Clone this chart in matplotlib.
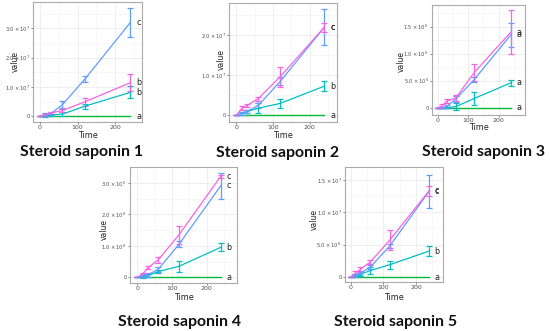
"""Five steroid saponin time-course panels (ggplot-like small multiples)."""

import matplotlib

matplotlib.use("Agg")
import matplotlib.pyplot as plt
from matplotlib.ticker import FixedLocator

TIME = [0, 15, 30, 60, 120, 240]

# saponin 1
S1_GREEN = [0, 0, 0, 0, 0, 0]
S1_TEAL = [0, 0.2e6, 0.5e6, 0.8e6, 3.5e6, 8.2e6]
S1_TEAL_SD = [0, 0.3e6, 0.4e6, 0.6e6, 0.8e6, 2.0e6]
S1_BLUE = [0, 0.5e6, 1.0e6, 4.0e6, 12.8e6, 32.0e6]
S1_BLUE_SD = [0, 0.5e6, 0.6e6, 1.2e6, 1.0e6, 5.0e6]
S1_PINK = [0, 0.5e6, 1.2e6, 2.0e6, 5.0e6, 11.5e6]
S1_PINK_SD = [0, 0.3e6, 0.4e6, 0.4e6, 1.3e6, 2.8e6]

# saponin 2
S2_GREEN = [0, 0, 0, 0, 0, 0]
S2_TEAL = [0, 0.5e6, 1.0e6, 1.8e6, 3.0e6, 7.3e6]
S2_TEAL_SD = [0, 0.3e6, 0.4e6, 1.2e6, 1.2e6, 1.3e6]
S2_BLUE = [0, 0.5e6, 1.0e6, 2.5e6, 8.5e6, 22.0e6]
S2_BLUE_SD = [0, 0.4e6, 0.4e6, 0.6e6, 1.0e6, 4.5e6]
S2_PINK = [0, 1.8e6, 2.5e6, 4.2e6, 9.7e6, 22.0e6]
S2_PINK_SD = [0, 0.5e6, 0.3e6, 0.5e6, 2.5e6, 1.2e6]

# saponin 3
S3_GREEN = [0, 0, 0, 0, 0, 0]
S3_TEAL = [0, 0, 0, 0.02e6, 0.17e6, 0.46e6]
S3_TEAL_SD = [0, 0, 0, 0.07e6, 0.12e6, 0.05e6]
S3_BLUE = [0, 0, 0.02e6, 0.16e6, 0.52e6, 1.35e6]
S3_BLUE_SD = [0, 0, 0.02e6, 0.06e6, 0.05e6, 0.22e6]
S3_PINK = [0, 0.03e6, 0.12e6, 0.18e6, 0.65e6, 1.40e6]
S3_PINK_SD = [0, 0.03e6, 0.04e6, 0.06e6, 0.15e6, 0.40e6]

# saponin 4
S4_GREEN = [0, 0, 0, 0, 0, 0]
S4_TEAL = [0, 0.02e6, 0.05e6, 0.18e6, 0.35e6, 0.95e6]
S4_TEAL_SD = [0, 0.03e6, 0.05e6, 0.05e6, 0.18e6, 0.13e6]
S4_BLUE = [0, 0.05e6, 0.08e6, 0.25e6, 1.05e6, 2.90e6]
S4_BLUE_SD = [0, 0.05e6, 0.06e6, 0.08e6, 0.10e6, 0.40e6]
S4_PINK = [0, 0.10e6, 0.30e6, 0.55e6, 1.35e6, 3.20e6]
S4_PINK_SD = [0, 0.05e6, 0.05e6, 0.08e6, 0.28e6, 0.06e6]

# saponin 5
S5_GREEN = [0, 0, 0, 0, 0, 0]
S5_TEAL = [0, 0.2e6, 0.4e6, 1.0e6, 1.9e6, 4.0e6]
S5_TEAL_SD = [0, 0.2e6, 0.2e6, 0.5e6, 0.6e6, 0.8e6]
S5_BLUE = [0, 0.3e6, 0.6e6, 1.5e6, 4.8e6, 13.2e6]
S5_BLUE_SD = [0, 0.2e6, 0.3e6, 0.3e6, 0.3e6, 2.5e6]
S5_PINK = [0, 0.6e6, 1.2e6, 2.3e6, 5.7e6, 13.3e6]
S5_PINK_SD = [0, 0.3e6, 0.4e6, 0.3e6, 1.5e6, 0.8e6]

TITLES = ["Steroid saponin 1", "Steroid saponin 2", "Steroid saponin 3",
          "Steroid saponin 4", "Steroid saponin 5"]
YTICKS = [
    [0, 1e7, 2e7, 3e7],
    [0, 1e7, 2e7],
    [0, 5e5, 1e6, 1.5e6],
    [0, 1e6, 2e6, 3e6],
    [0, 5e6, 1e7, 1.5e7],
]
YTICKLABELS = [
    ["0", r"$1.0\times10^{7}$", r"$2.0\times10^{7}$", r"$3.0\times10^{7}$"],
    ["0", r"$1.0\times10^{7}$", r"$2.0\times10^{7}$"],
    ["0", r"$5.0\times10^{5}$", r"$1.0\times10^{6}$", r"$1.5\times10^{6}$"],
    ["0", r"$1.0\times10^{6}$", r"$2.0\times10^{6}$", r"$3.0\times10^{6}$"],
    ["0", r"$5.0\times10^{6}$", r"$1.0\times10^{7}$", r"$1.5\times10^{7}$"],
]
# significance letters: green, teal, blue, pink
LETTERS = [
    ["a", "b", "c", "b"],
    ["a", "b", "c", "c"],
    ["a", "a", "a", "a"],
    ["a", "b", "c", "c"],
    ["a", "b", "c", "c"],
]

PANELS = [
    (S1_GREEN, S1_TEAL, S1_TEAL_SD, S1_BLUE, S1_BLUE_SD, S1_PINK, S1_PINK_SD),
    (S2_GREEN, S2_TEAL, S2_TEAL_SD, S2_BLUE, S2_BLUE_SD, S2_PINK, S2_PINK_SD),
    (S3_GREEN, S3_TEAL, S3_TEAL_SD, S3_BLUE, S3_BLUE_SD, S3_PINK, S3_PINK_SD),
    (S4_GREEN, S4_TEAL, S4_TEAL_SD, S4_BLUE, S4_BLUE_SD, S4_PINK, S4_PINK_SD),
    (S5_GREEN, S5_TEAL, S5_TEAL_SD, S5_BLUE, S5_BLUE_SD, S5_PINK, S5_PINK_SD),
]

GREEN = "#00BA38"
TEAL = "#00BFC4"
BLUE = "#619CFF"
PINK = "#F564E3"

W, H = 550, 331
# pixel boxes (left, top, right, bottom), axis limits, label and title centres
BOXES = [(33, 2, 142, 122), (229, 3, 337, 122), (432, 5, 525, 115),
         (130, 167, 237, 283), (345, 167, 443, 282)]
XLIMS = [(-18, 271), (-20, 275), (-18, 286), (-21, 287), (-17, 283)]
YLIMS = [(-0.19e7, 3.9e7), (-0.165e7, 2.81e7), (-0.136e6, 1.9e6),
         (-0.18e6, 3.5e6), (-0.077e7, 1.70e7)]
YLABEL_POS = [(15, 62), (221, 60), (401, 62), (104, 229), (314, 220)]
XLABEL_Y = [136, 135, 127, 297, 297]
TITLE_POS = [(82, 152), (278, 153), (484, 152), (180, 322), (396, 322)]

fig = plt.figure(figsize=(W / 100, H / 100), dpi=100)

for i, data in enumerate(PANELS):
    green, teal, teal_sd, blue, blue_sd, pink, pink_sd = data
    l, t, r, b = BOXES[i]
    ax = fig.add_axes([l / W, (H - b) / H, (r - l) / W, (b - t) / H])

    ax.plot(TIME, green, color=GREEN, lw=1.0, zorder=2)
    for vals, sd, col in [(teal, teal_sd, TEAL), (blue, blue_sd, BLUE), (pink, pink_sd, PINK)]:
        ax.errorbar(TIME, vals, yerr=sd, color=col, lw=0.9, elinewidth=0.9,
                    capsize=2.2, capthick=0.9, zorder=3)

    ends = [green[-1], teal[-1], blue[-1], pink[-1]]
    for letter, yv in zip(LETTERS[i], ends):
        ax.text(257, yv, letter, fontsize=5.8, color="#222222", va="center", ha="left", zorder=4)

    ax.set_xlim(*XLIMS[i])
    ax.set_ylim(*YLIMS[i])
    ax.set_xticks([0, 100, 200])
    ax.xaxis.set_minor_locator(FixedLocator([50, 150, 250]))
    yt = YTICKS[i]
    ax.set_yticks(yt)
    ax.set_yticklabels(YTICKLABELS[i])
    step = yt[1] - yt[0]
    ax.yaxis.set_minor_locator(FixedLocator([v + step / 2 for v in yt]))
    ax.grid(True, which="major", color="#EBEBEB", lw=0.6)
    ax.grid(True, which="minor", color="#F2F2F2", lw=0.4)
    ax.set_axisbelow(True)
    ax.tick_params(which="major", length=1.5, width=0.5, color="#555555",
                   labelsize=3.7, labelcolor="#4D4D4D", pad=1)
    ax.tick_params(which="minor", length=0)
    ax.tick_params(axis="x", labelsize=4.5)
    for s in ax.spines.values():
        s.set_color("#AAAAAA")
        s.set_linewidth(0.8)

    ax.set_xlabel("Time", fontsize=5.8, color="#222222", va="center")
    ax.xaxis.set_label_coords(0.5, 1 - XLABEL_Y[i] / H, transform=fig.transFigure)
    ax.set_ylabel("value", fontsize=5.5, color="#222222", va="center")
    lx, ly = YLABEL_POS[i]
    ax.yaxis.set_label_coords(lx / W, 1 - ly / H, transform=fig.transFigure)
    ax.xaxis.label.set_x(((l + r) / 2) / W)

    tx, ty = TITLE_POS[i]
    fig.text(tx / W, 1 - ty / H, TITLES[i], fontsize=11.4, fontweight="bold",
             family=["Lato", "DejaVu Sans"], ha="center", va="center", color="#111111")

fig.savefig("out.png", dpi=100)
